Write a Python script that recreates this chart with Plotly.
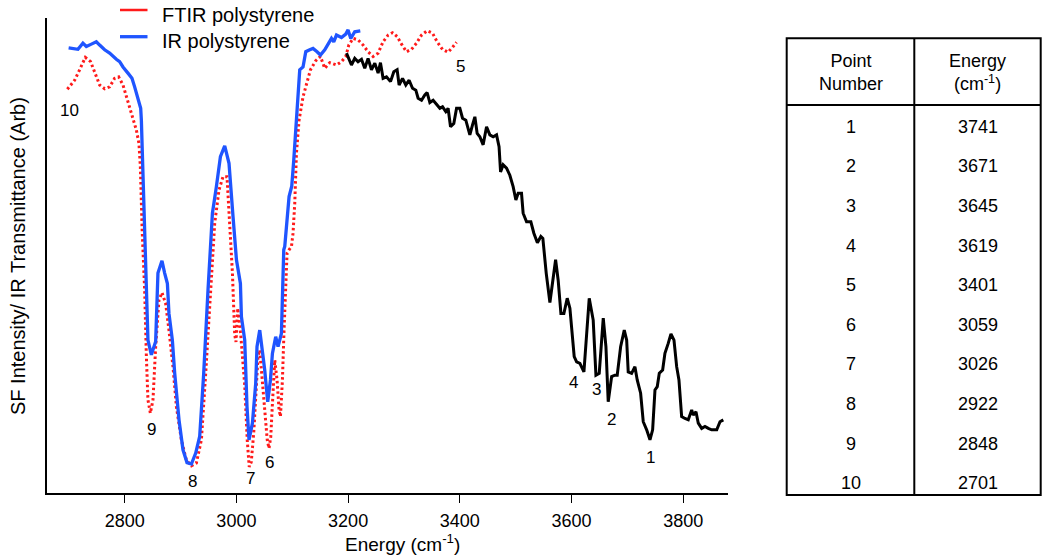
import plotly.graph_objects as go

# ---------------- data ----------------
ir_x = [2699.7, 2716.4, 2725.3, 2731.4, 2740.4, 2749.3, 2755.2, 2764.2, 2773.1, 2779.0,
        2785.1, 2791.0, 2797.0, 2805.9, 2813.1, 2817.9, 2823.8, 2828.7, 2829.9, 2832.8,
        2835.8, 2838.9, 2841.7, 2847.8, 2855.5, 2859.6, 2866.8, 2871.6, 2876.5, 2879.3,
        2885.4, 2889.6, 2897.3, 2904.4, 2911.6, 2919.5, 2927.2, 2934.3, 2941.5, 2949.2,
        2957.1, 2964.2, 2971.4, 2979.1, 2986.8, 2994.0, 3000.1, 3007.2, 3009.0, 3014.9,
        3019.0, 3022.6, 3028.7, 3034.6, 3036.9, 3041.8, 3047.7, 3050.7, 3056.1, 3061.0,
        3064.5, 3070.4, 3074.6, 3080.6, 3084.8, 3086.6, 3094.3, 3099.1, 3102.7, 3107.5,
        3113.4, 3119.3, 3124.2, 3131.3, 3137.2, 3144.4, 3150.5, 3158.2, 3165.9, 3170.2,
        3174.3, 3179.2, 3188.1, 3195.8, 3199.9, 3204.8, 3211.9, 3221.8]
ir_y = [93.7, 93.4, 94.7, 94.0, 94.5, 95.0, 94.3, 93.3, 92.6, 91.9,
        91.3, 90.8, 89.7, 88.4, 87.3, 85.5, 83.1, 81.0, 78.5, 67.3,
        53.3, 42.7, 32.2, 29.1, 31.9, 46.3, 48.9, 46.3, 44.1, 37.8,
        32.2, 25.2, 15.4, 9.1, 6.4, 6.1, 8.4, 11.9, 25.2, 42.7,
        58.9, 64.5, 70.8, 73.1, 69.4, 58.2, 49.1, 44.1, 37.1, 32.2,
        18.2, 11.2, 14.7, 23.1, 30.8, 34.3, 29.4, 25.9, 19.2, 23.8,
        29.4, 32.9, 30.8, 33.6, 51.2, 51.9, 62.4, 64.6, 70.1, 78.5,
        89.1, 89.7, 92.9, 93.3, 93.6, 92.9, 92.2, 93.3, 94.7, 95.7,
        95.0, 96.4, 95.9, 96.6, 97.5, 95.7, 97.1, 97.3]

ftir_x = [2697.4, 2710.5, 2719.4, 2729.6, 2739.1, 2746.3, 2755.2, 2764.2, 2773.1, 2782.1,
          2789.3, 2797.0, 2804.8, 2813.1, 2821.0, 2825.6, 2828.1, 2831.3, 2835.8, 2838.9,
          2841.7, 2846.0, 2850.7, 2855.5, 2861.4, 2866.8, 2873.4, 2879.3, 2886.5, 2892.6,
          2901.5, 2910.5, 2919.5, 2928.4, 2937.4, 2945.1, 2953.5, 2961.2, 2968.9, 2976.1,
          2983.2, 2988.1, 2992.9, 2997.0, 2999.3, 3002.4, 3007.8, 3014.9, 3019.4, 3023.0,
          3026.6, 3031.0, 3035.5, 3038.7, 3041.8, 3046.6, 3050.7, 3055.2, 3058.4, 3061.5,
          3064.2, 3068.7, 3072.8, 3076.4, 3078.9, 3082.4, 3085.3, 3087.8, 3090.7, 3094.3,
          3098.6, 3101.4, 3104.5, 3107.5, 3112.2, 3119.3, 3125.4, 3132.6, 3142.1, 3150.5,
          3158.2, 3167.2, 3179.2, 3188.1, 3195.8, 3201.2, 3208.9, 3217.8, 3226.8, 3235.7,
          3244.7, 3253.7, 3262.6, 3271.6, 3279.4, 3287.7, 3295.6, 3304.5, 3313.5, 3322.4,
          3331.4, 3341.4, 3351.1, 3359.3, 3369.0, 3379.0, 3388.0, 3394.1]
ftir_y = [85.0, 86.9, 89.1, 91.7, 90.8, 88.7, 85.9, 85.1, 85.5, 87.3,
          87.6, 85.9, 82.7, 79.6, 76.4, 73.6, 68.7, 55.4, 42.7, 28.7,
          19.6, 16.8, 19.6, 30.8, 40.6, 42.2, 39.9, 34.3, 26.6, 18.2,
          11.2, 6.9, 5.7, 6.3, 11.2, 25.2, 42.7, 56.8, 63.8, 66.6,
          66.6, 56.8, 46.3, 33.3, 31.8, 38.9, 33.3, 22.7, 11.2, 5.5,
          6.5, 12.6, 23.8, 28.7, 30.1, 23.8, 16.8, 11.2, 9.4, 11.8,
          18.1, 28.0, 23.8, 17.5, 16.1, 23.8, 34.3, 42.7, 50.5, 51.2,
          51.9, 54.7, 61.0, 71.5, 78.5, 83.4, 86.3, 89.1, 91.0, 91.9,
          89.4, 90.6, 90.1, 90.8, 91.9, 94.3, 95.7, 95.4, 94.3, 92.9,
          91.9, 92.6, 95.0, 96.4, 96.9, 96.1, 94.5, 92.9, 93.4, 94.7,
          96.4, 97.3, 96.8, 95.0, 93.4, 92.8, 94.0, 94.9]

sf_x = [3197.1, 3206.0, 3211.9, 3217.8, 3223.9, 3229.8, 3235.7, 3241.8, 3247.8, 3253.7,
        3257.9, 3262.6, 3268.7, 3275.9, 3281.8, 3287.7, 3291.3, 3297.4, 3303.3, 3309.2,
        3315.3, 3321.2, 3325.3, 3331.4, 3337.3, 3341.4, 3346.3, 3352.2, 3359.3, 3364.2,
        3369.0, 3374.9, 3379.0, 3383.3, 3389.2, 3394.1, 3400.0, 3404.8, 3410.7, 3417.9,
        3422.7, 3426.9, 3431.0, 3435.8, 3441.7, 3447.8, 3453.7, 3459.6, 3465.7, 3470.2,
        3472.9, 3477.5, 3483.6, 3489.5, 3495.4, 3500.3, 3504.4, 3510.4, 3513.3, 3519.4,
        3527.1, 3532.5, 3538.8, 3545.0, 3548.6, 3554.6, 3561.2, 3571.4, 3576.0, 3580.9,
        3586.2, 3592.2, 3597.0, 3600.0, 3604.7, 3609.0, 3614.9, 3622.1, 3631.6, 3638.7,
        3643.6, 3649.5, 3656.7, 3661.5, 3665.6, 3671.7, 3677.6, 3681.7, 3687.8, 3694.3,
        3698.6, 3701.4, 3707.5, 3713.4, 3717.5, 3723.6, 3728.3, 3734.4, 3740.3, 3745.1,
        3749.3, 3753.4, 3757.0, 3763.0, 3767.1, 3773.0, 3777.9, 3783.3, 3788.1, 3792.2,
        3797.0, 3803.0, 3808.9, 3815.0, 3817.8, 3822.7, 3826.8, 3832.9, 3838.8, 3844.7,
        3850.8, 3859.8, 3865.7, 3871.6]
sf_y = [92.6, 90.1, 91.5, 90.8, 91.3, 89.4, 91.5, 89.1, 90.5, 88.4,
        90.6, 87.3, 87.6, 86.6, 88.7, 89.1, 85.9, 87.3, 85.9, 86.9,
        85.2, 84.8, 83.1, 82.7, 83.8, 84.3, 82.2, 82.7, 81.7, 81.0,
        81.3, 80.3, 81.0, 77.1, 77.8, 81.0, 81.0, 78.9, 78.5, 75.4,
        77.5, 79.2, 75.7, 75.0, 73.3, 77.1, 75.4, 75.0, 75.4, 72.9,
        67.6, 69.1, 68.4, 66.9, 64.5, 61.7, 63.1, 63.1, 58.9, 57.1,
        57.1, 54.7, 52.7, 54.0, 53.6, 46.3, 40.1, 49.1, 44.8, 37.8,
        37.8, 41.0, 38.9, 34.3, 28.7, 27.6, 27.3, 25.5, 41.0, 36.4,
        24.8, 25.2, 36.8, 30.8, 19.2, 24.5, 24.8, 24.8, 30.8, 34.3,
        32.2, 25.5, 25.2, 26.6, 23.8, 21.0, 15.0, 13.3, 11.2, 13.3,
        21.7, 22.4, 25.2, 25.9, 29.4, 31.5, 33.5, 32.2, 26.6, 23.8,
        16.1, 15.7, 15.4, 17.5, 16.4, 17.1, 14.7, 13.6, 14.0, 13.6,
        13.3, 13.3, 15.0, 15.4]

point_numbers = [1, 2, 3, 4, 5, 6, 7, 8, 9, 10]
energies = [3741, 3671, 3645, 3619, 3401, 3059, 3026, 2922, 2848, 2701]
label_y = [7.4, 15.5, 21.7, 23.2, 89.7, 6.4, 3.1, 2.4, 13.3, 80.5]

x_ticks = [2800, 3000, 3200, 3400, 3600, 3800]
legend_names = ["FTIR polystyrene", "IR polystyrene"]
table_headers = ["Point<br>Number", "Energy<br>(cm<sup>-1</sup>)"]

# ---------------- layout helpers ----------------
W, H = 1045, 560
ML, MR, MT, MB = 47, 317, 18, 67
PW = W - ML - MR
PH = H - MT - MB
FONT = "Liberation Sans, Arial, Helvetica, sans-serif"


def pxx(x):
    return (x - ML) / PW


def pxy(y):
    return (H - MB - y) / PH


RED = "#ff1a1a"
BLUE = "#1f55ff"

fig = go.Figure()
fig.add_trace(go.Scatter(x=ftir_x, y=ftir_y, mode="lines", name=legend_names[0],
                         line=dict(color=RED, width=3, dash="2.5px,2.7px"),
                         showlegend=False))
fig.add_trace(go.Scatter(x=sf_x, y=sf_y, mode="lines", name="SF",
                         line=dict(color="black", width=3), showlegend=False))
fig.add_trace(go.Scatter(x=ir_x, y=ir_y, mode="lines", name=legend_names[1],
                         line=dict(color=BLUE, width=3.3), showlegend=False))

annotations = []
shapes = []


def text_at(xp, yp, text, size, anchor_x="center", angle=0):
    annotations.append(dict(x=pxx(xp), y=pxy(yp), xref="paper", yref="paper", text=text,
                            showarrow=False, xanchor=anchor_x, yanchor="middle",
                            textangle=angle,
                            font=dict(family=FONT, size=size, color="black")))


# peak labels
for n, e, ly in zip(point_numbers, energies, label_y):
    annotations.append(dict(x=e, y=ly, xref="x", yref="y", text=str(n), showarrow=False,
                            xanchor="center", yanchor="middle",
                            xshift=-9 if n == 4 else 0,
                            font=dict(family=FONT, size=17, color="black")))

# manual legend
leg_rows = [(legend_names[0], RED, 10, 15, 2.5), (legend_names[1], BLUE, 36.7, 40.5, 3.3)]
for name, col, ly, ty, lw in leg_rows:
    shapes.append(dict(type="line", xref="paper", yref="paper", x0=pxx(120), x1=pxx(147.5),
                       y0=pxy(ly), y1=pxy(ly), line=dict(color=col, width=lw)))
    text_at(160, ty, name, 20, anchor_x="left")

# axis titles
text_at(403, 543, "Energy (cm<sup>-1</sup>)", 19)
text_at(18, 256, "SF Intensity/ IR Transmittance (Arb)", 20, angle=-90)

# table
tx0, tx1, txm = 786.7, 1040.7, 914.3
ty0, ty1, tyh = 38.3, 495, 105
shapes.append(dict(type="rect", xref="paper", yref="paper", x0=pxx(tx0), x1=pxx(tx1),
                   y0=pxy(ty1), y1=pxy(ty0), line=dict(color="black", width=2)))
shapes.append(dict(type="line", xref="paper", yref="paper", x0=pxx(txm), x1=pxx(txm),
                   y0=pxy(ty1), y1=pxy(ty0), line=dict(color="black", width=2)))
shapes.append(dict(type="line", xref="paper", yref="paper", x0=pxx(tx0), x1=pxx(tx1),
                   y0=pxy(tyh), y1=pxy(tyh), line=dict(color="black", width=2)))
col_c = [(tx0 + txm) / 2, (txm + tx1) / 2]
for c, htxt in zip(col_c, table_headers):
    text_at(c, 72, htxt, 18)
row0, row_step = 126.7, 39.6
for i, (n, e) in enumerate(zip(point_numbers, energies)):
    yy = row0 + i * row_step
    text_at(col_c[0], yy, str(n), 18)
    text_at(col_c[1], yy, str(e), 18)

fig.update_layout(
    width=W, height=H,
    margin=dict(l=ML, r=MR, t=MT, b=MB, pad=0),
    paper_bgcolor="white", plot_bgcolor="white",
    showlegend=False,
    annotations=annotations, shapes=shapes,
    xaxis=dict(range=[2661, 3880], tickvals=x_ticks, ticktext=[str(t) for t in x_ticks],
               showline=True, linecolor="black", linewidth=1.5, ticks="outside",
               ticklen=8, tickwidth=1, tickcolor="black", showgrid=False, zeroline=False,
               ticklabelstandoff=3,
               tickfont=dict(family=FONT, size=18, color="black")),
    yaxis=dict(range=[0, 100], showline=True, linecolor="black", linewidth=1.5,
               showticklabels=False, ticks="", showgrid=False, zeroline=False),
)

fig.write_html("out.html")
